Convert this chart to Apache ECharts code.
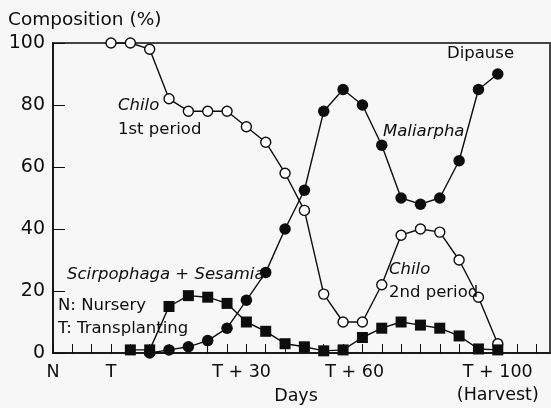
<!DOCTYPE html>
<html>
<head>
<meta charset="utf-8">
<script src="https://cdn.jsdelivr.net/npm/echarts@6/dist/echarts.min.js"></script>
<style>
  html, body { margin: 0; padding: 0; background: #f7f7f7; }
  #main { width: 551px; height: 408px; }
</style>
</head>
<body>
<div id="main"></div>
<script>
// x is in tick steps of the schematic day axis (N = 0, T = 3, ... T + 100 = 23)
var tickSteps = [0, 1, 2, 3, 4, 5, 6, 7, 8, 9, 10, 11, 12, 13, 14, 15, 16, 17, 18, 19, 20, 21, 22, 23, 24, 25];
var dayLabelPos = [0, 3, 9.75, 15.6, 23];
var dayLabels = ['N', 'T', 'T + 30', 'T + 60', 'T + 100\n(Harvest)'];

// Chilo (open circles), from step 3
var chiloStart = 3;
var chiloValues = [100, 100, 98, 82, 78, 78, 78, 73, 68, 58, 46, 19, 10, 10, 22, 38, 40, 39, 30, 18, 3];

// Maliarpha (filled circles), from step 5
var maliarphaStart = 5;
var maliarphaValues = [0, 1, 2, 4, 8, 17, 26, 40, 52.5, 78, 85, 80, 67, 50, 48, 50, 62, 85, 90];

// Scirpophaga + Sesamia (squares), from step 4
var scirpoStart = 4;
var scirpoValues = [1, 1, 15, 18.5, 18, 16, 10, 7, 3, 2, 0.7, 1, 5, 8, 10, 9, 8, 5.5, 1.3, 1];

function toPairs(start, vals) {
  return vals.map(function (v, i) { return [start + i, v]; });
}

var font = 'DejaVu Sans';
var ink = '#0d0d0d';

var chart = echarts.init(document.getElementById('main'), null, { renderer: 'canvas' });

function txt(x, y, text, size, italic) {
  return {
    type: 'text', x: x, y: y, z: 100,
    style: {
      text: text, fill: ink, font: (italic ? 'italic ' : '') + size + 'px "' + font + '"',
      textAlign: 'left', textVerticalAlign: 'middle'
    }
  };
}

var option = {
  backgroundColor: '#f7f7f7',
  animation: false,
  grid: {
    left: 53, right: 1, top: 43, bottom: 55,
    show: true, borderColor: '#444', borderWidth: 2, backgroundColor: 'transparent'
  },
  xAxis: {
    type: 'value', min: 0, max: 25.7,
    axisLine: { lineStyle: { color: ink, width: 1.5 } },
    axisTick: { inside: true, length: 9, customValues: tickSteps, lineStyle: { color: ink, width: 1 } },
    axisLabel: {
      customValues: dayLabelPos,
      margin: 8,
      color: ink, fontFamily: font, fontSize: 17.5, lineHeight: 23,
      formatter: function (v) {
        var i = dayLabelPos.indexOf(v);
        return i >= 0 ? dayLabels[i] : '';
      }
    },
    splitLine: { show: false }
  },
  yAxis: {
    type: 'value', min: 0, max: 100, interval: 20,
    axisLine: { show: true, lineStyle: { color: ink, width: 1.5 } },
    axisTick: { show: true, inside: true, length: 12, lineStyle: { color: ink, width: 1 } },
    axisLabel: { margin: 8, color: ink, fontFamily: font, fontSize: 19 },
    splitLine: { show: false }
  },
  series: [
    {
      name: 'Chilo', type: 'line', data: toPairs(chiloStart, chiloValues),
      symbol: 'circle', symbolSize: 10, showAllSymbol: true, z: 3,
      lineStyle: { color: ink, width: 1.4 },
      itemStyle: { color: '#fff', borderColor: ink, borderWidth: 1.4 }
    },
    {
      name: 'Maliarpha', type: 'line', data: toPairs(maliarphaStart, maliarphaValues),
      symbol: 'circle', symbolSize: 11.5, showAllSymbol: true, z: 4,
      lineStyle: { color: ink, width: 1.4 },
      itemStyle: { color: ink, borderColor: ink, borderWidth: 0 }
    },
    {
      name: 'Scirpophaga + Sesamia', type: 'line', data: toPairs(scirpoStart, scirpoValues),
      symbol: 'rect', symbolSize: 11, showAllSymbol: true, z: 5,
      lineStyle: { color: ink, width: 1.4 },
      itemStyle: { color: ink, borderColor: ink, borderWidth: 0 }
    }
  ],
  graphic: [
    txt(8, 20, 'Composition (%)', 18.5, false),
    txt(118, 106, 'Chilo', 16.5, true),
    txt(118, 130, '1st period', 16.5, false),
    txt(447, 54, 'Dipause', 16.5, false),
    txt(383, 132, 'Maliarpha', 16.5, true),
    txt(67, 275, 'Scirpophaga + Sesamia', 16.5, true),
    txt(58, 306, 'N: Nursery', 16.5, false),
    txt(58, 329, 'T: Transplanting', 16.5, false),
    txt(389, 270, 'Chilo', 16.5, true),
    txt(389, 293, '2nd period', 16.5, false),
    {
      type: 'text', x: 296, y: 396, z: 100,
      style: { text: 'Days', fill: ink, font: '17.5px "' + font + '"', textAlign: 'center', textVerticalAlign: 'middle' }
    }
  ]
};

chart.setOption(option);
</script>
</body>
</html>
